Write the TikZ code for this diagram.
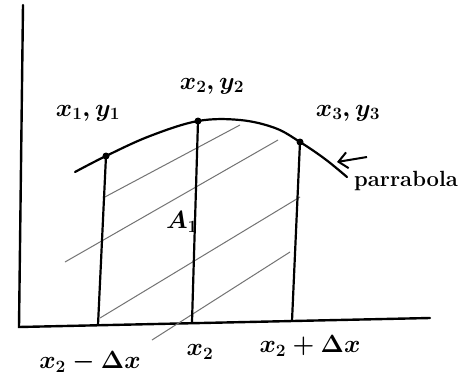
\documentclass[tikz,border=0pt]{standalone}
\usetikzlibrary{arrows.meta}
\begin{document}
\begin{tikzpicture}[x=1pt,y=-1pt,
  axis/.style={line width=2.4pt, line cap=round},
  ordinate/.style={line width=2.2pt, line cap=round},
  hatch/.style={line width=1pt, black!55},
  curve/.style={line width=2.2pt, line cap=round},
  lbl/.style={font=\fontsize{24}{28}\selectfont\boldmath, inner sep=0pt},
  dot/.style={circle, fill=black, inner sep=0pt, minimum size=7pt}]
\useasboundingbox (0,0) rectangle (466,380);
\fill[white] (0,0) rectangle (466,380);
% axes
\coordinate (O) at (19,327);
\coordinate (Ytop) at (23,5);
\coordinate (Xend) at (430,318);
\draw[axis] (Ytop) -- (O) -- (Xend);
% hatching
\coordinate (h1a) at (103,198); \coordinate (h1b) at (240,125);
\coordinate (h2a) at (65,262);  \coordinate (h2b) at (278,140);
\coordinate (h3a) at (100,318); \coordinate (h3b) at (300,197);
\coordinate (h4a) at (152,340); \coordinate (h4b) at (290,252);
\draw[hatch] (h1a) -- (h1b);
\draw[hatch] (h2a) -- (h2b);
\draw[hatch] (h3a) -- (h3b);
\draw[hatch] (h4a) -- (h4b);
% curve
\draw[curve] plot[smooth, tension=0.6] coordinates {(75,172) (106,156) (150,136) (198,121) (240,120) (275,128) (300,142) (325,159) (347,177)};
% points
\node[dot] (p1) at (106,156) {};
\node[dot] (p2) at (198,121) {};
\node[dot] (p3) at (300,142) {};
\coordinate (b1) at (98,325);
\coordinate (b2) at (192,322);
\coordinate (b3) at (292,321);
\draw[ordinate] (p1.center) -- (b1);
\draw[ordinate] (p2.center) -- (b2);
\draw[ordinate] (p3.center) -- (b3);
% labels
\node[lbl] (l1) at (88,113) {$x_1,y_1$};
\node[lbl] (l2) at (212,86) {$x_2,y_2$};
\node[lbl] (l3) at (348,113) {$x_3,y_3$};
\node[lbl] (A) at (182,222) {$A_1$};
\node[lbl] (bl1) at (90,362) {$x_2-\Delta x$};
\node[lbl] (bl2) at (200,352) {$x_2$};
\node[lbl] (bl3) at (310,346) {$x_2+\Delta x$};
% parabola label and arrow
\node[lbl, font=\fontsize{22}{26}\selectfont\bfseries, anchor=west] (par) at (354,181) {parrabola};
\coordinate (tip) at (337,162);
\coordinate (tail) at (367,157);
\draw[line width=2pt, -{Straight Barb[length=9pt,width=16pt]}] (tail) -- (tip);
\end{tikzpicture}
\end{document}
